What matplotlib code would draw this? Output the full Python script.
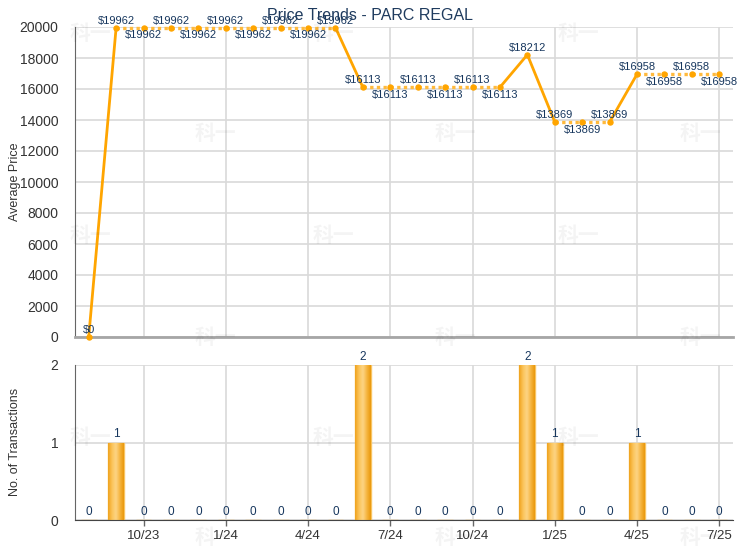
import matplotlib
matplotlib.use('Agg')
import matplotlib.pyplot as plt
import numpy as np
from matplotlib.colors import LinearSegmentedColormap

plt.rcParams['font.family'] = ['Liberation Sans', 'DejaVu Sans']

# ---------------------------------------------------------------------------
# data
# ---------------------------------------------------------------------------
MONTHS = ['8/23', '9/23', '10/23', '11/23', '12/23', '1/24', '2/24', '3/24',
          '4/24', '5/24', '6/24', '7/24', '8/24', '9/24', '10/24', '11/24',
          '12/24', '1/25', '2/25', '3/25', '4/25', '5/25', '6/25', '7/25']
PRICES = [0, 19962, 19962, 19962, 19962, 19962, 19962, 19962, 19962, 19962,
          16113, 16113, 16113, 16113, 16113, 16113, 18212, 13869, 13869, 13869,
          16958, 16958, 16958, 16958]
COUNTS = [0, 1, 0, 0, 0, 0, 0, 0, 0, 0, 2, 0, 0, 0, 0, 0, 2, 1, 0, 0, 1, 0, 0, 0]
TICK_MONTHS = ['10/23', '1/24', '4/24', '7/24', '10/24', '1/25', '4/25', '7/25']
PRICE_TICKS = [0, 2000, 4000, 6000, 8000, 10000, 12000, 14000, 16000, 18000, 20000]
COUNT_TICKS = [0, 1, 2]

ORANGE = '#FFA500'
NAVY = '#17375E'
GRID = '#D9D9D9'
TXT = '#333333'

W, H = 740, 550
fig = plt.figure(figsize=(W / 100, H / 100), dpi=100)

x = np.arange(len(MONTHS))
tick_pos = [MONTHS.index(m) for m in TICK_MONTHS]

ax1 = fig.add_axes([75 / W, 1 - 337 / H, 658 / W, 310 / H])
ax2 = fig.add_axes([75 / W, 1 - 520 / H, 658 / W, 155 / H])

for ax in (ax1, ax2):
    ax.set_xlim(-0.5, len(MONTHS) - 0.5)
    ax.set_xticks(tick_pos)
    for side in ('top', 'right'):
        ax.spines[side].set_visible(False)
    ax.spines['left'].set_color('#666666')
    ax.grid(True, color=GRID, linewidth=1.2, zorder=0)
    ax.set_axisbelow(True)
    ax.tick_params(axis='y', length=0, pad=12, labelsize=10, labelcolor=TXT)

# ---- price line -------------------------------------------------------------
ax1.set_ylim(0, 20000)
ax1.set_yticks(PRICE_TICKS)
ax1.tick_params(axis='x', length=0, labelbottom=False)
ax1.spines['bottom'].set_color('#A6A6A6')
ax1.spines['bottom'].set_linewidth(2)

for i in range(len(PRICES) - 1):
    seg_x = [x[i], x[i + 1]]
    seg_y = [PRICES[i], PRICES[i + 1]]
    if PRICES[i] == PRICES[i + 1]:
        ax1.plot(seg_x, seg_y, color='#FFBA3D', linewidth=2.4,
                 linestyle=(0, (1, 1)), zorder=3, clip_on=False)
    else:
        ax1.plot(seg_x, seg_y, color=ORANGE, linewidth=2, zorder=3,
                 clip_on=False)
ax1.plot(x, PRICES, linestyle='none', marker='o', markersize=3.6,
         color=ORANGE, zorder=4, clip_on=False)

# labels alternate above / below within a run of equal prices
up = True
for i, v in enumerate(PRICES):
    if i > 0 and v == PRICES[i - 1]:
        up = not up
    else:
        up = True
    if up:
        ax1.annotate(f'${v}', (x[i], v), xytext=(0, 1.5), textcoords='offset points',
                     ha='center', va='bottom', fontsize=8, color=NAVY,
                     annotation_clip=False, zorder=5)
    else:
        ax1.annotate(f'${v}', (x[i], v), xytext=(0, -2), textcoords='offset points',
                     ha='center', va='top', fontsize=8, color=NAVY,
                     annotation_clip=False, zorder=5)

# ---- transactions bars ------------------------------------------------------
ax2.set_ylim(0, 2)
ax2.set_yticks(COUNT_TICKS)
ax2.spines['bottom'].set_color('#444444')
ax2.tick_params(axis='x', length=4, width=1, color='#666666', pad=3,
                labelsize=9.5, labelcolor=TXT)
ax2.set_xticklabels(TICK_MONTHS)

cmap = LinearSegmentedColormap.from_list(
    'bar', ['#EFA21C', '#FBC45A', '#FDD585', '#F6B540', '#E9980C'])
grad = np.linspace(0, 1, 64).reshape(1, -1)
bw = 0.58
bars = ax2.bar(x, COUNTS, width=bw, color='#F5B03C', edgecolor='#F8C462',
               linewidth=1, zorder=2)
for bar, c in zip(bars, COUNTS):
    if c > 0:
        bx = bar.get_x()
        im = ax2.imshow(grad, extent=[bx, bx + bw, 0, c], aspect='auto',
                        cmap=cmap, zorder=2.5, interpolation='bicubic')
        im.set_clip_path(bar)
ax2.set_xlim(-0.5, len(MONTHS) - 0.5)
ax2.set_ylim(0, 2)

for i, c in enumerate(COUNTS):
    ax2.annotate(str(c), (x[i], c), xytext=(0, 1.5), textcoords='offset points',
                 ha='center', va='bottom', fontsize=8.5, color=NAVY,
                 annotation_clip=False, zorder=5)

# ---- text ------------------------------------------------------------------
fig.text(0.5, 1 - 15 / H, 'Price Trends - PARC REGAL', ha='center', va='center',
         fontsize=11.5, color='#1F3B5E')
fig.text(15 / W, 1 - 182 / H, 'Average Price', rotation=90, ha='center',
         va='center', fontsize=9, color=TXT)
fig.text(15 / W, 1 - 442 / H, 'No. of Transactions', rotation=90, ha='center',
         va='center', fontsize=9, color=TXT)

# faint watermark
for r, wy in enumerate([33, 133, 235, 337, 437, 537]):
    xs = [90, 333, 578] if r % 2 == 0 else [215, 455, 700]
    for wx in xs:
        fig.text(wx / W, 1 - wy / H, '科一', ha='center', va='center',
                 fontsize=15, fontweight='bold', color='#000000', alpha=0.045,
                 family=['Noto Sans CJK SC', 'DejaVu Sans'], zorder=0)

fig.savefig('out.png', dpi=100)
